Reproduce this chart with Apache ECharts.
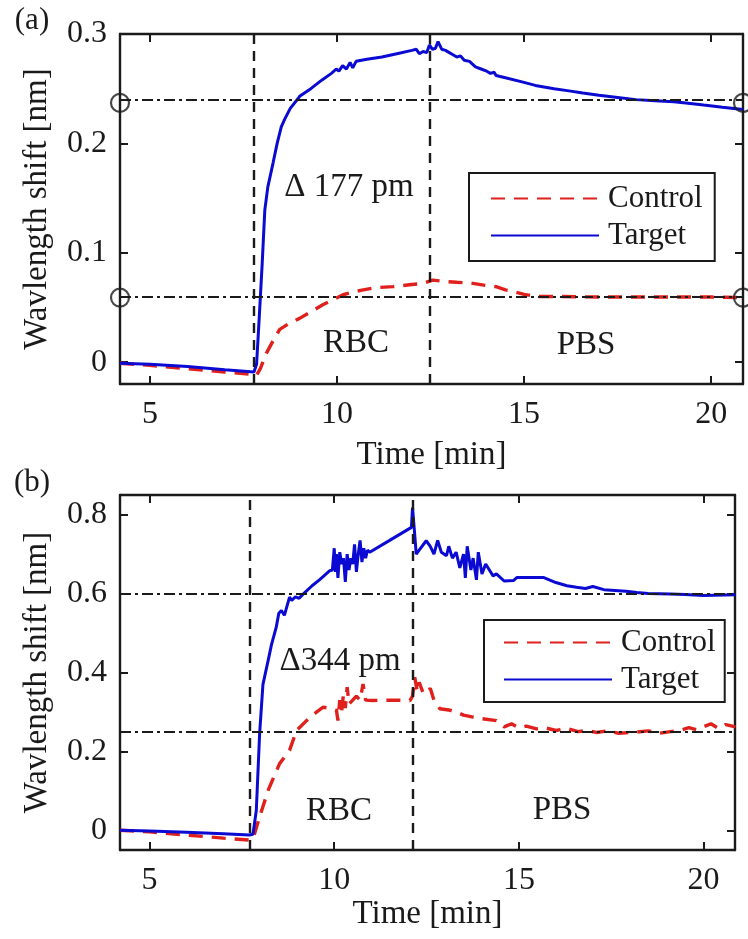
<!DOCTYPE html>
<html>
<head>
<meta charset="utf-8">
<script src="https://cdn.jsdelivr.net/npm/echarts@6/dist/echarts.min.js"></script>
<style>html,body{margin:0;padding:0;background:#fff}#c{width:748px;height:939px}</style>
</head>
<body>
<div id="c"></div>
<script>
// ---------- Panel (a) data ----------
const tA_target = [4.2,5.0,6.0,7.0,7.78,7.85,7.92,8.0,8.07,8.15,8.29,8.4,8.51,8.6,8.75,8.96,9.0,9.3,9.6,9.85,9.98,10.05,10.15,10.25,10.35,10.42,10.51,10.8,11.2,11.6,12.0,12.12,12.2,12.3,12.4,12.47,12.55,12.63,12.7,12.8,12.9,13.0,13.1,13.2,13.3,13.4,13.54,13.7,13.85,14.0,14.1,14.2,14.25,14.5,14.97,15.3,15.8,16.2,16.57,17.0,17.5,17.99,18.5,19.0,19.32,19.8,20.3,20.85];
const vA_target = [-0.001,-0.002,-0.004,-0.007,-0.009,-0.002,0.04,0.09,0.139,0.16,0.182,0.2,0.215,0.222,0.232,0.241,0.243,0.25,0.258,0.264,0.268,0.266,0.271,0.268,0.274,0.269,0.275,0.277,0.279,0.282,0.285,0.286,0.282,0.284,0.283,0.29,0.286,0.287,0.293,0.286,0.285,0.283,0.281,0.279,0.280,0.276,0.275,0.270,0.268,0.266,0.264,0.265,0.262,0.260,0.256,0.253,0.250,0.248,0.246,0.244,0.242,0.240,0.239,0.238,0.237,0.235,0.233,0.231];
const tA_control = [4.2,5.0,6.0,7.0,7.7,7.85,7.95,8.11,8.3,8.47,8.7,9.0,9.3,9.62,9.9,10.16,10.4,10.7,11.0,11.5,11.94,12.3,12.56,12.8,13.2,13.63,14.0,14.25,14.5,14.7,15.0,15.32,16.0,17.0,18.0,19.0,20.0,20.85];
const vA_control = [-0.001,-0.003,-0.006,-0.009,-0.011,-0.012,-0.006,0.008,0.02,0.030,0.035,0.040,0.046,0.0525,0.057,0.0616,0.064,0.066,0.068,0.069,0.0708,0.072,0.075,0.074,0.073,0.072,0.070,0.069,0.066,0.0647,0.062,0.060,0.060,0.0595,0.0595,0.0595,0.0595,0.059];
const hLinesA = [0.237, 0.059];
const vLinesA = [7.78, 12.47];
const circlesA = [[4.2,0.237],[20.85,0.237],[4.2,0.059],[20.85,0.059]];

// ---------- Panel (b) data ----------
const tB_target = [4.2,5,6,7,7.7,7.8,7.89,7.98,8.07,8.21,8.3,8.43,8.5,8.57,8.65,8.70,8.79,8.85,8.95,9.05,9.15,9.4,9.6,9.88,9.95,10.0,10.03,10.06,10.1,10.15,10.2,10.25,10.3,10.35,10.4,10.45,10.5,10.55,10.6,10.65,10.7,10.75,10.8,10.85,10.9,10.96,11.5,12.09,12.12,12.17,12.22,12.3,12.49,12.6,12.7,12.8,12.9,13.04,13.1,13.2,13.3,13.4,13.5,13.55,13.6,13.7,13.76,13.85,13.9,14.0,14.1,14.2,14.3,14.39,14.6,14.85,14.95,15.66,16.0,16.3,16.56,16.8,17.0,17.3,17.6,17.9,18.19,18.5,19.09,19.5,19.99,20.3,20.86];
const vB_target = [0.0,-0.002,-0.005,-0.009,-0.012,-0.01,0.05,0.245,0.37,0.43,0.47,0.515,0.55,0.557,0.545,0.549,0.591,0.583,0.592,0.588,0.598,0.62,0.635,0.658,0.66,0.715,0.655,0.70,0.64,0.705,0.675,0.69,0.63,0.70,0.66,0.69,0.675,0.725,0.655,0.70,0.735,0.68,0.715,0.69,0.71,0.705,0.735,0.768,0.818,0.76,0.70,0.71,0.734,0.72,0.70,0.735,0.705,0.696,0.72,0.69,0.705,0.665,0.70,0.64,0.72,0.66,0.69,0.635,0.705,0.65,0.675,0.66,0.645,0.65,0.632,0.633,0.641,0.641,0.628,0.62,0.616,0.613,0.618,0.61,0.608,0.606,0.603,0.600,0.599,0.598,0.595,0.596,0.597];
const tB_control = [4.2,5,6,7,7.71,7.8,7.98,8.21,8.52,8.79,8.98,9.25,9.5,9.70,9.9,10.06,10.1,10.15,10.2,10.25,10.3,10.35,10.4,10.5,10.6,10.7,10.78,10.85,11.05,11.5,12.05,12.12,12.18,12.25,12.3,12.4,12.5,12.6,12.7,12.86,13.1,13.31,13.5,13.76,14.0,14.39,14.6,14.8,15.0,15.2,15.48,15.7,16.0,16.3,16.6,16.83,17.1,17.4,17.7,18.19,18.5,18.8,19.1,19.36,19.6,19.8,19.99,20.2,20.4,20.6,20.86];
const vB_control = [0.0,-0.004,-0.012,-0.02,-0.025,-0.022,0.034,0.101,0.169,0.2025,0.253,0.278,0.298,0.312,0.31,0.304,0.278,0.33,0.30,0.345,0.31,0.363,0.32,0.33,0.34,0.33,0.371,0.33,0.329,0.33,0.329,0.34,0.388,0.35,0.375,0.35,0.346,0.36,0.33,0.308,0.305,0.30,0.292,0.287,0.283,0.278,0.262,0.27,0.26,0.264,0.257,0.26,0.253,0.258,0.25,0.253,0.248,0.252,0.246,0.249,0.252,0.246,0.25,0.253,0.26,0.255,0.262,0.27,0.258,0.268,0.262];
const hLinesB = [0.6, 0.253];
const vLinesB = [7.71, 12.12];

// ---------- Axes ----------
const xRange = [4.2, 20.85];
const xTicks = [5, 10, 15, 20];
const yRangeA = [-0.02, 0.3];
const yTicksA = [0, 0.1, 0.2, 0.3];
const yRangeB = [-0.05, 0.85];
const yTicksB = [0, 0.2, 0.4, 0.6, 0.8];

const xName = 'Time [min]';
const yName = 'Wavlength shift [nm]';
const legendNames = ['Control', 'Target'];

const FONT = '"Liberation Serif", "Times New Roman", serif';
const BLUE = '#0a0ad2';
const RED = '#e0201c';
const INK = '#1a1a1a';

const zip = (t, v) => t.map((x, i) => [x, v[i]]);

function xAxisPair(gi, nameGap) {
  const common = {
    type: 'value', gridIndex: gi, min: xRange[0], max: xRange[1],
    splitLine: { show: false },
    axisLine: { show: true, onZero: false, lineStyle: { color: INK, width: 2.4 } },
    axisTick: { show: true, inside: true, length: 8, customValues: xTicks, lineStyle: { color: INK, width: 2 } }
  };
  return [
    Object.assign({}, common, {
      position: 'bottom',
      axisLabel: { show: true, customValues: xTicks, margin: 15, fontFamily: FONT, fontSize: 32, color: INK },
      name: xName, nameLocation: 'middle', nameGap: nameGap,
      nameTextStyle: { fontFamily: FONT, fontSize: 33, color: INK }
    }),
    Object.assign({}, common, { position: 'top', axisLabel: { show: false } })
  ];
}
function yAxisPair(gi, range, ticks) {
  const common = {
    type: 'value', gridIndex: gi, min: range[0], max: range[1],
    splitLine: { show: false },
    axisLine: { show: true, onZero: false, lineStyle: { color: INK, width: 2.4 } },
    axisTick: { show: true, inside: true, length: 8, customValues: ticks, lineStyle: { color: INK, width: 2 } }
  };
  return [
    Object.assign({}, common, {
      position: 'left',
      axisLabel: { show: true, customValues: ticks, margin: 13, fontFamily: FONT, fontSize: 32, color: INK },
      name: yName, nameLocation: 'middle', nameGap: 66, nameRotate: 90,
      nameTextStyle: { fontFamily: FONT, fontSize: 33, color: INK }
    }),
    Object.assign({}, common, { position: 'right', axisLabel: { show: false } })
  ];
}

function markLines(hs, vs) {
  return {
    silent: true, symbol: 'none', label: { show: false }, animation: false,
    data: hs.map(y => ({ yAxis: y, lineStyle: { color: INK, width: 2, type: [11, 4, 3, 4] } }))
      .concat(vs.map(x => ({ xAxis: x, lineStyle: { color: INK, width: 2.4, type: [10, 7] } })))
  };
}

function legendCfg(left, top, pad) {
  return {
    data: legendNames, orient: 'vertical', left: left, top: top,
    itemWidth: 108, itemHeight: 16, itemGap: 6,
    backgroundColor: '#fff', borderColor: INK, borderWidth: 2, borderRadius: 0,
    padding: pad, selectedMode: false,
    itemStyle: { opacity: 0 },
    textStyle: { fontFamily: FONT, fontSize: 31, color: INK, padding: [0, 0, 0, 4] }
  };
}

function txt(x, y, s, size) {
  return { type: 'text', x: x, y: y, style: { text: s, font: size + 'px ' + FONT, fill: INK, textAlign: 'center', textVerticalAlign: 'middle' } };
}

const xa = xAxisPair(0, 55), xb = xAxisPair(1, 41);
const ya = yAxisPair(0, yRangeA, yTicksA), yb = yAxisPair(1, yRangeB, yTicksB);

const option = {
  animation: false,
  backgroundColor: '#fff',
  grid: [
    { left: 120, top: 34, width: 623, height: 350 },
    { left: 120, top: 495, width: 615, height: 355 }
  ],
  xAxis: [xa[0], xa[1], xb[0], xb[1]],
  yAxis: [ya[0], ya[1], yb[0], yb[1]],
  legend: [legendCfg(469, 173, [10, 12, 10, 21]), legendCfg(484, 620, [7, 9, 7, 19])],
  series: [
    { name: 'Control', type: 'line', xAxisIndex: 0, yAxisIndex: 0, data: zip(tA_control, vA_control), symbol: 'none', showSymbol: false,
      lineStyle: { color: RED, width: 3.4, type: [14, 9] }, itemStyle: { color: RED }, z: 3 },
    { name: 'Target', type: 'line', xAxisIndex: 0, yAxisIndex: 0, data: zip(tA_target, vA_target), symbol: 'none', showSymbol: false,
      lineStyle: { color: BLUE, width: 3 }, itemStyle: { color: BLUE }, z: 4, markLine: markLines(hLinesA, vLinesA) },
    { name: 'circles', type: 'scatter', xAxisIndex: 0, yAxisIndex: 0, data: circlesA, symbol: 'circle', symbolSize: 18, clip: false,
      itemStyle: { color: 'rgba(0,0,0,0)', borderColor: INK, borderWidth: 2.2 }, z: 5 },
    { name: 'Control', type: 'line', xAxisIndex: 2, yAxisIndex: 2, data: zip(tB_control, vB_control), symbol: 'none', showSymbol: false,
      lineStyle: { color: RED, width: 3.4, type: [14, 9] }, itemStyle: { color: RED }, z: 3 },
    { name: 'Target', type: 'line', xAxisIndex: 2, yAxisIndex: 2, data: zip(tB_target, vB_target), symbol: 'none', showSymbol: false,
      lineStyle: { color: BLUE, width: 3 }, itemStyle: { color: BLUE }, z: 4, markLine: markLines(hLinesB, vLinesB) }
  ],
  graphic: [
    txt(32, 21, '(a)', 31),
    txt(349, 187, 'Δ 177 pm', 33),
    txt(356, 343, 'RBC', 33),
    txt(586, 345, 'PBS', 33),
    txt(32, 483, '(b)', 31),
    txt(340, 661, 'Δ344 pm', 33),
    txt(339, 811, 'RBC', 33),
    txt(562, 810, 'PBS', 33)
  ]
};

const chart = echarts.init(document.getElementById('c'), null, { renderer: 'canvas' });
chart.setOption(option);
</script>
</body>
</html>
